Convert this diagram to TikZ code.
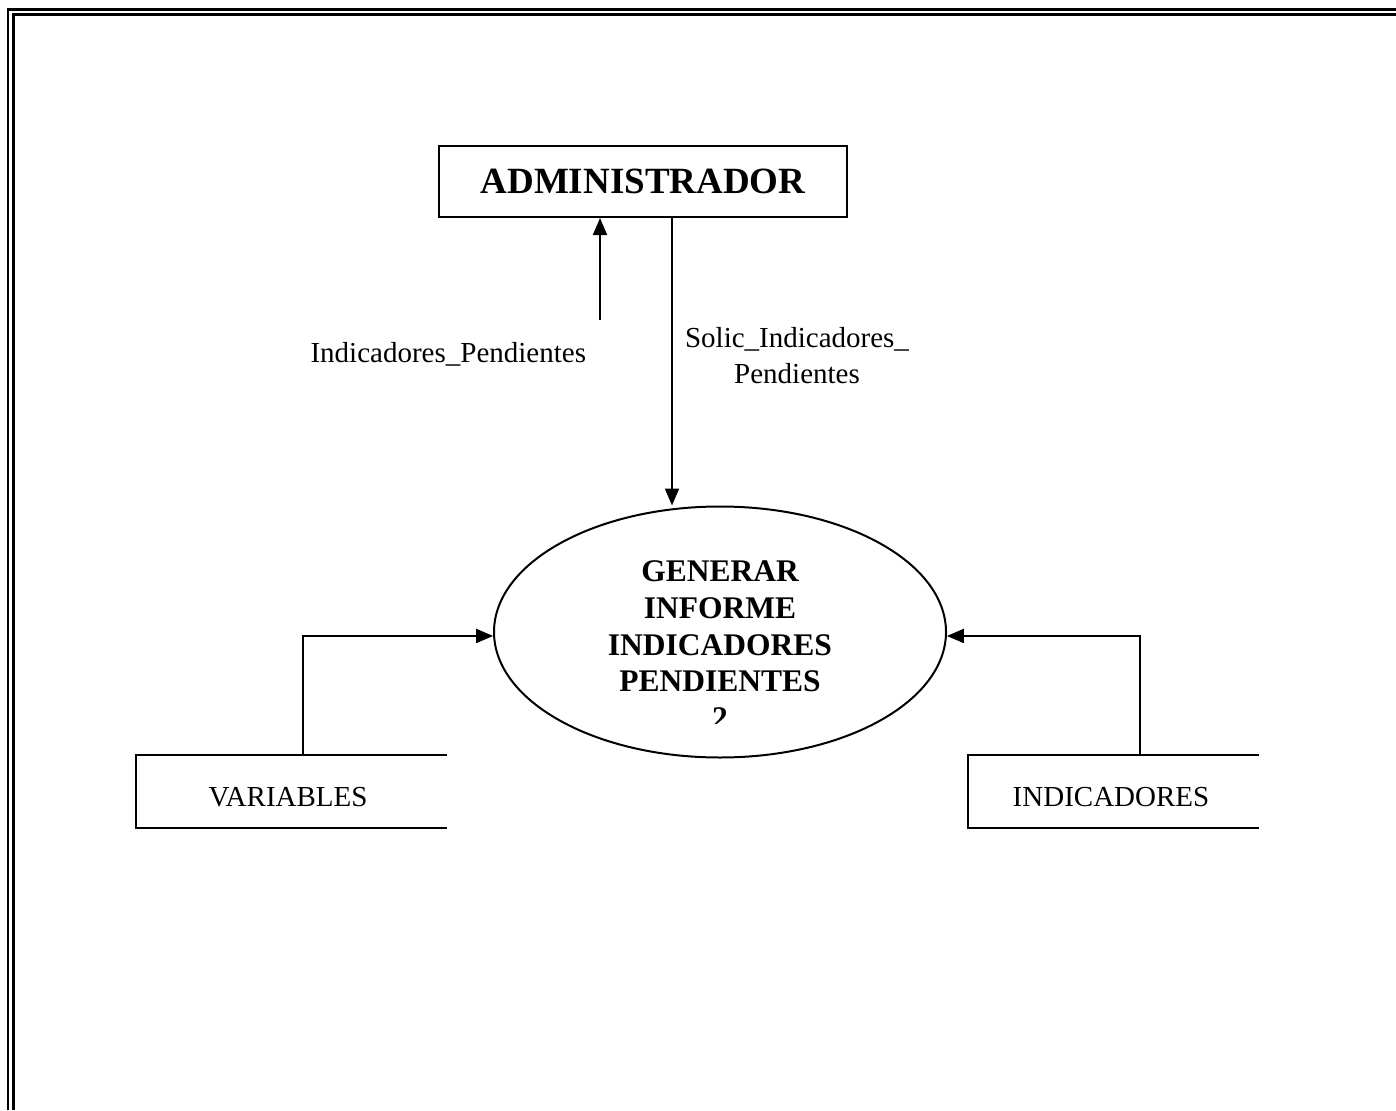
\documentclass[tikz,border=0pt]{standalone}
\usepackage{fontspec}
\setmainfont{Liberation Serif}
\usetikzlibrary{shapes.geometric,arrows.meta}
\begin{document}
\begin{tikzpicture}[x=1pt,y=-1pt,
  line width=2pt,
  arr/.style={-{Triangle[length=17pt,width=14pt]}},
  entity/.style={draw,minimum width=408pt,minimum height=71pt,inner sep=0pt,
    font=\fontsize{37}{40}\selectfont\bfseries},
  process/.style={draw,ellipse,minimum width=452pt,minimum height=251pt,inner sep=0pt},
  proctext/.style={align=center,inner sep=0pt,
    font=\fontsize{31.5}{36.6}\selectfont\bfseries},
  flowlabel/.style={inner sep=0pt,align=center,
    font=\fontsize{29}{36}\selectfont},
  storelabel/.style={inner sep=0pt,font=\fontsize{29}{34}\selectfont}]
\useasboundingbox (0,0) rectangle (1396,1110);
\fill[white] (0,0) rectangle (1396,1110);

% page frame (top and left edges)
\draw[line width=2.7pt] (8,1110) -- (8,9.3) -- (1396,9.3);
\draw[line width=3pt] (13.5,1110) -- (13.5,15) -- (1396,15);

% external entity
\node[entity] (admin) at (643,181.5) {ADMINISTRADOR};

% process
\node[process] (proc) at (720,632) {};
\begin{scope}
  \clip (400,540) rectangle (1000,723.5);
  \node[proctext,anchor=north] (proclabel) at (720,560)
    {GENERAR\\INFORME\\INDICADORES\\PENDIENTES\\2};
\end{scope}

% data stores (open on the right)
\draw (447,755) -- (136,755) -- (136,828) -- (447,828);
\node[storelabel] (vars) at (288,797) {VARIABLES};
\draw (1259,755) -- (968,755) -- (968,828) -- (1259,828);
\node[storelabel] (inds) at (1111,797) {INDICADORES};

% connector anchors
\coordinate (xa) at (600,0);
\coordinate (xb) at (672,0);
\coordinate (upstart) at (600,320);
\coordinate (vtop) at (303,755);
\coordinate (itop) at (1140,755);

% flows between administrator and process
\draw[arr] (upstart) -- (xa |- admin.south);
\draw[arr] (xb |- admin.south) -- (xb |- proc.north);
\node[flowlabel,anchor=east] (lblout) at (587,354) {Indicadores\_Pendientes};
\node[flowlabel] (lblin) at (797,356) {Solic\_Indicadores\_\\Pendientes};

% flows from data stores
\draw[arr] (vtop) |- (proc.181);
\draw[arr] (itop) |- (proc.-1);
\end{tikzpicture}
\end{document}
